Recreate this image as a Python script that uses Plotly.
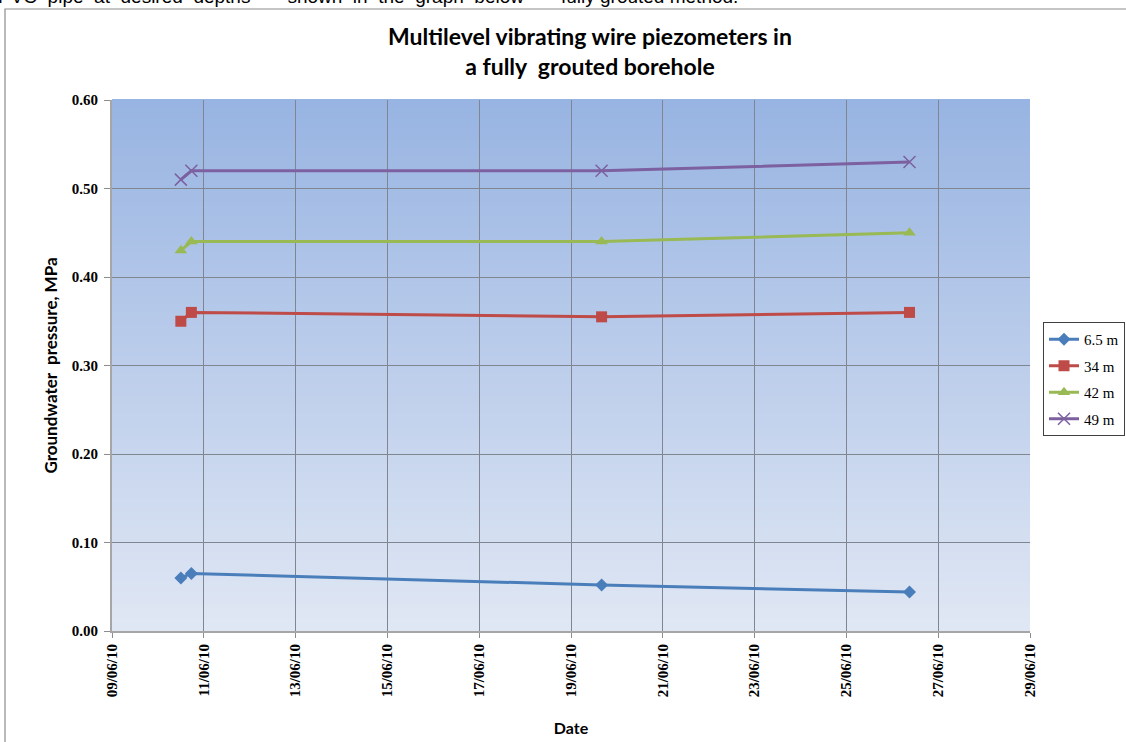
import plotly.graph_objects as go

# Reading dates and groundwater pressures (MPa) for each piezometer depth
dates = ["2010-06-10 12:00", "2010-06-10 17:30", "2010-06-19 16:00", "2010-06-26 09:00"]
p_6_5m = [0.060, 0.065, 0.052, 0.044]
p_34m = [0.350, 0.360, 0.355, 0.360]
p_42m = [0.430, 0.440, 0.440, 0.450]
p_49m = [0.510, 0.520, 0.520, 0.530]

series_names = ["6.5 m", "34 m", "42 m", "49 m"]
series_values = [p_6_5m, p_34m, p_42m, p_49m]
colors = ["#4A7EBB", "#BE4B48", "#98B954", "#7D60A0"]
symbols = ["diamond", "square", "triangle-up", "x-thin"]
marker_sizes = [10, 11, 11, 12]

x_range = ["2010-06-09", "2010-06-29"]
y_ticks = [0.0, 0.1, 0.2, 0.3, 0.4, 0.5, 0.6]
y_tick_text = ["0.00", "0.10", "0.20", "0.30", "0.40", "0.50", "0.60"]

fig = go.Figure()
for name, vals, col, sym, ms in zip(series_names, series_values, colors, symbols, marker_sizes):
    marker = dict(symbol=sym, size=ms, color=col)
    if sym == "x-thin":
        marker["line"] = dict(color=col, width=1.5)
    fig.add_trace(go.Scatter(
        x=dates, y=vals, name=name, mode="lines+markers", legendgroup=name,
        line=dict(color=col, width=3), marker=marker,
    ))

# Page geometry: plot area spans 918 px of a 1014 px wide paper region
W, H = 1126, 742
ML, MR, MT, MB = 112, 0, 100, 111
paper_w = W - ML - MR
paper_h = H - MT - MB
plot_w = 918


def px_x(px):
    return (px - ML) / paper_w


def px_y(py):
    return (H - MB - py) / paper_h


# Vertical gradient for the plot background (darker blue at top)
top_rgb = (152, 180, 226)
bot_rgb = (224, 231, 244)
n_bands = 120
shapes = []
for i in range(n_bands):
    t = i / (n_bands - 1)
    r = round(bot_rgb[0] + (top_rgb[0] - bot_rgb[0]) * t)
    g = round(bot_rgb[1] + (top_rgb[1] - bot_rgb[1]) * t)
    b = round(bot_rgb[2] + (top_rgb[2] - bot_rgb[2]) * t)
    shapes.append(dict(
        type="rect", xref="x domain", yref="y domain",
        x0=0, x1=1, y0=i / n_bands, y1=(i + 1) / n_bands + 0.002,
        fillcolor=f"rgb({r},{g},{b})", line=dict(width=0), layer="below",
    ))

# Chart frame
shapes.append(dict(
    type="rect", xref="paper", yref="paper",
    x0=px_x(5), x1=px_x(1140), y0=px_y(750), y1=px_y(9),
    line=dict(color="#8C8C8C", width=1.2), fillcolor="rgba(0,0,0,0)", layer="above",
))

serif = "Liberation Serif"
sans = "Lato"

fig.update_layout(
    width=W, height=H,
    margin=dict(l=ML, r=MR, t=MT, b=MB, autoexpand=False),
    paper_bgcolor="white",
    plot_bgcolor="#C0D0EC",
    shapes=shapes,
    showlegend=True,
    legend=dict(
        x=px_x(1125), y=px_y(322), xanchor="right", yanchor="top",
        bgcolor="white", bordercolor="#404040", borderwidth=1,
        font=dict(family=serif, size=15, color="#000000"),
        itemwidth=30, tracegroupgap=4,
    ),
    annotations=[
        dict(
            text="Multilevel vibrating wire piezometers in<br>a fully  grouted borehole",
            xref="paper", yref="paper", x=px_x(590), y=px_y(20),
            xanchor="center", yanchor="top", showarrow=False,
            font=dict(family=sans, size=23, color="#000000", weight="bold"),
        ),
        dict(
            text="PVC  pipe  at  desired  depths       shown  in  the  graph  below       fully grouted method.",
            xref="paper", yref="paper", x=px_x(-4), y=px_y(-3),
            xanchor="left", yanchor="middle", showarrow=False,
            font=dict(family="Liberation Sans", size=19, color="#000000"),
        ),
    ],
)

fig.update_xaxes(
    domain=[0, plot_w / paper_w], automargin=False,
    type="date", range=x_range, dtick=2 * 24 * 3600 * 1000, tick0="2010-06-09",
    tickformat="%d/%m/%y", tickangle=-90,
    tickfont=dict(family=serif, size=15, color="#000000", weight="bold"),
    showgrid=True, gridcolor="#7F8690", gridwidth=1,
    showline=True, linecolor="#A6A6A6", linewidth=2,
    ticks="outside", ticklen=5, tickcolor="#8C8C8C",
    title=dict(text="Date", font=dict(family=sans, size=16, color="#000000", weight="bold"), standoff=26),
    zeroline=False,
)
fig.update_yaxes(
    automargin=False,
    range=[0, 0.6], tickvals=y_ticks, ticktext=y_tick_text,
    tickfont=dict(family=serif, size=15, color="#000000", weight="bold"),
    ticklabelstandoff=3,
    showgrid=True, gridcolor="#7F8690", gridwidth=1,
    showline=True, linecolor="#A6A6A6", linewidth=2,
    ticks="outside", ticklen=6, tickcolor="#8C8C8C",
    title=dict(text="Groundwater  pressure, MPa", font=dict(family=sans, size=17, color="#000000", weight="bold"), standoff=10),
    zeroline=False,
)

fig.write_html("out.html")
